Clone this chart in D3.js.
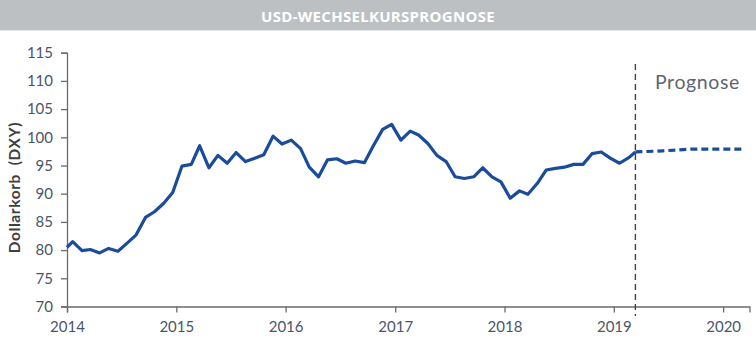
<!DOCTYPE html>
<html>
<head>
<meta charset="utf-8">
<script src="https://cdn.jsdelivr.net/npm/d3@7"></script>
<style>
  html, body { margin: 0; padding: 0; background: #fff; }
  svg { display: block; }
</style>
</head>
<body>
<svg id="chart" width="756" height="344"></svg>
<script>
// USD index (DXY): monthly history and forecast
const historyDates = [
  "2014-01-01","2014-01-20","2014-02-20","2014-03-20","2014-04-20","2014-05-20","2014-06-20","2014-07-20","2014-08-20","2014-09-20","2014-10-20","2014-11-20","2014-12-20",
  "2015-01-20","2015-02-20","2015-03-20","2015-04-20","2015-05-20","2015-06-20","2015-07-20","2015-08-20","2015-09-20","2015-10-20","2015-11-20","2015-12-20",
  "2016-01-20","2016-02-20","2016-03-20","2016-04-20","2016-05-20","2016-06-20","2016-07-20","2016-08-20","2016-09-20","2016-10-20","2016-11-20","2016-12-20",
  "2017-01-20","2017-02-20","2017-03-20","2017-04-20","2017-05-20","2017-06-20","2017-07-20","2017-08-20","2017-09-20","2017-10-20","2017-11-20","2017-12-20",
  "2018-01-20","2018-02-20","2018-03-20","2018-04-20","2018-05-20","2018-06-20","2018-07-20","2018-08-20","2018-09-20","2018-10-20","2018-11-20","2018-12-20",
  "2019-01-20","2019-02-20","2019-03-14"
];
const historyValues = [
  80.5, 81.5, 79.9, 80.1, 79.5, 80.3, 79.8, 81.2, 82.7, 85.8, 86.8, 88.3, 90.2,
  94.9, 95.2, 98.5, 94.6, 96.8, 95.4, 97.3, 95.7, 96.3, 96.9, 100.2, 98.8,
  99.5, 98.0, 94.7, 93.0, 96.0, 96.2, 95.4, 95.8, 95.5, 98.5, 101.4, 102.3,
  99.5, 101.1, 100.4, 98.9, 96.8, 95.7, 93.0, 92.7, 93.0, 94.6, 93.0, 92.1,
  89.2, 90.5, 89.9, 91.8, 94.2, 94.5, 94.7, 95.2, 95.2, 97.1, 97.4, 96.3,
  95.4, 96.4, 97.4
];
const forecastDates = ["2019-03-14", "2019-06-14", "2019-09-14", "2019-12-14", "2020-03-14"];
const forecastValues = [97.4, 97.6, 97.9, 97.9, 97.9];
const forecastStart = "2019-03-14";

const yTicks = [70, 75, 80, 85, 90, 95, 100, 105, 110, 115];
const yearTicks = ["2014", "2015", "2016", "2017", "2018", "2019", "2020"];

const titleText = "USD-WECHSELKURSPROGNOSE";
const yLabel = "Dollarkorb  (DXY)";
const forecastLabel = "Prognose";

const parse = d3.timeParse("%Y-%m-%d");
const history = historyDates.map((d, i) => ({ date: parse(d), value: historyValues[i] }));
const forecast = forecastDates.map((d, i) => ({ date: parse(d), value: forecastValues[i] }));

const svg = d3.select("#chart");
const W = 756, H = 344;
const lineColor = "#1b4c9c";
const tickColor = "#4a5568";
const axisColor = "#6b6b6b";
const font = "Lato, 'Open Sans', sans-serif";

// Title banner
svg.append("rect").attr("x", 0).attr("y", 0).attr("width", W).attr("height", 30).attr("fill", "#bdc0c3");
svg.append("rect").attr("x", 0).attr("y", 30).attr("width", W).attr("height", 1).attr("fill", "#e4e5e7");
svg.append("text")
  .attr("x", 378).attr("y", 21.5)
  .attr("text-anchor", "middle")
  .attr("fill", "#ffffff")
  .attr("font-family", "'Open Sans', sans-serif")
  .attr("font-weight", 700)
  .attr("font-size", 15)
  .attr("letter-spacing", 0.3)
  .text(titleText);

// Scales
const x = d3.scaleTime()
  .domain([parse("2014-01-01"), parse("2020-03-29")])
  .range([67, 749.5]);
const y = d3.scaleLinear().domain([70, 115]).range([306.5, 52.7]);

// Y axis
const yAxis = svg.append("g")
  .attr("transform", `translate(${x.range()[0]},0)`)
  .call(d3.axisLeft(y).tickValues(yTicks).tickSize(6).tickPadding(8).tickFormat(d3.format("d")));
yAxis.select(".domain").attr("stroke", axisColor).attr("stroke-width", 1.3);
yAxis.selectAll(".tick line").attr("stroke", axisColor).attr("stroke-width", 1.3);
yAxis.selectAll(".tick text")
  .attr("fill", tickColor)
  .attr("font-family", font)
  .attr("font-size", 15);

// X axis
const xAxis = svg.append("g")
  .attr("transform", `translate(0,${y(70)})`)
  .call(d3.axisBottom(x)
    .tickValues(yearTicks.map(t => d3.timeParse("%Y")(t)))
    .tickSize(6).tickPadding(9)
    .tickFormat(d3.timeFormat("%Y")));
xAxis.select(".domain").attr("stroke", axisColor).attr("stroke-width", 1.3);
xAxis.selectAll(".tick line").attr("stroke", axisColor).attr("stroke-width", 1.3);
xAxis.selectAll(".tick text")
  .attr("fill", tickColor)
  .attr("font-family", font)
  .attr("font-size", 15);

// Y axis title
svg.append("text")
  .attr("transform", `translate(20,${(y(70) + y(115)) / 2 + 8}) rotate(-90)`)
  .attr("text-anchor", "middle")
  .attr("fill", "#404040")
  .attr("font-family", font)
  .attr("font-weight", 700)
  .attr("font-size", 15.5)
  .attr("letter-spacing", 0.6)
  .attr("xml:space", "preserve")
  .style("white-space", "pre")
  .text(yLabel);

// Forecast divider
const xSplit = x(parse(forecastStart));
svg.append("line")
  .attr("x1", xSplit).attr("x2", xSplit)
  .attr("y1", 64).attr("y2", 316)
  .attr("stroke", "#404040")
  .attr("stroke-width", 1.4)
  .attr("stroke-dasharray", "6,4");

svg.append("text")
  .attr("x", 655).attr("y", 89)
  .attr("fill", "#5d6670")
  .attr("font-family", font)
  .attr("font-size", 19.5)
  .attr("letter-spacing", 0.6)
  .text(forecastLabel);

// Lines
const line = d3.line().x(d => x(d.date)).y(d => y(d.value));

svg.append("path")
  .datum(history)
  .attr("d", line)
  .attr("fill", "none")
  .attr("stroke", lineColor)
  .attr("stroke-width", 3.2)
  .attr("stroke-linejoin", "round");

svg.append("path")
  .datum(forecast)
  .attr("d", line)
  .attr("fill", "none")
  .attr("stroke", lineColor)
  .attr("stroke-width", 3.2)
  .attr("stroke-dasharray", "7,4");
</script>
</body>
</html>
